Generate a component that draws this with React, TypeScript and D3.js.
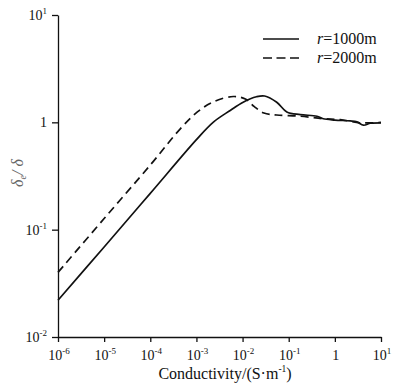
import React, { useEffect, useRef } from "react";
import * as d3 from "d3";

// conductivity (S/m) and normalised depth for both offsets
const sigma1000 = [1e-6, 1e-5, 1e-4, 1e-3, 2.3e-3, 5.4e-3, 1.03e-2, 2.0e-2, 3.0e-2, 5.5e-2, 9.1e-2, 0.178, 0.41, 0.56, 1, 2.14, 3.0, 4.17, 5.9, 10];
const delta1000 = [0.022, 0.069, 0.218, 0.69, 1.0, 1.29, 1.54, 1.73, 1.76, 1.54, 1.25, 1.18, 1.14, 1.08, 1.05, 1.03, 1.01, 0.94, 0.98, 0.99];

const sigma2000 = [1e-6, 1e-5, 1e-4, 4.47e-4, 1.05e-3, 2.3e-3, 6.3e-3, 1.15e-2, 1.8e-2, 2.9e-2, 5.5e-2, 0.178, 0.56, 1.3, 3.5, 10];
const delta2000 = [0.04, 0.127, 0.4, 0.87, 1.25, 1.55, 1.74, 1.65, 1.4, 1.22, 1.17, 1.14, 1.08, 1.06, 0.99, 1.0];

const xTicks = [1e-6, 1e-5, 1e-4, 1e-3, 1e-2, 1e-1, 1, 10];
const xExps = ["-6", "-5", "-4", "-3", "-2", "-1", "", "1"];
const yTicks = [0.01, 0.1, 1, 10];
const yExps = ["-2", "-1", "", "1"];

const legendNames = ["1000m", "2000m"];

const FONT = "'Liberation Serif', 'Times New Roman', serif";

const App = () => {
  const svgRef = useRef<SVGSVGElement>(null);
  useEffect(() => {
    const svg = d3.select(svgRef.current);
    svg.selectAll("*").remove();
    const width = 400;
    const height = 389;
    const margin = { top: 15, right: 19, bottom: 52, left: 58 };

    svg.append("rect").attr("width", width).attr("height", height).attr("fill", "#fff");

    const x = d3.scaleLog().domain([1e-6, 10]).range([margin.left, width - margin.right]);
    const y = d3.scaleLog().domain([0.01, 10]).range([height - margin.bottom, margin.top]);

    const xAxis = svg.append("g")
      .attr("transform", `translate(0,${height - margin.bottom})`)
      .call(d3.axisBottom(x).tickValues(xTicks).tickFormat(() => "").tickSize(5).tickSizeOuter(0));
    const yAxis = svg.append("g")
      .attr("transform", `translate(${margin.left},0)`)
      .call(d3.axisLeft(y).tickValues(yTicks).tickFormat(() => "").tickSize(6).tickSizeOuter(0));
    [xAxis, yAxis].forEach((g) => {
      g.selectAll("path, line").attr("stroke", "#111").attr("stroke-width", 1.3);
    });

    // x tick labels with superscripts
    xTicks.forEach((t, i) => {
      const txt = svg.append("text")
        .attr("x", x(t) + 1)
        .attr("y", 360)
        .attr("text-anchor", "middle")
        .attr("font-family", FONT)
        .attr("font-size", 14)
        .attr("fill", "#111");
      if (xExps[i] === "") {
        txt.text("1");
      } else {
        txt.append("tspan").text("10");
        txt.append("tspan").attr("dy", -6).attr("font-size", 9).text(xExps[i]);
      }
    });

    // y tick labels
    yTicks.forEach((t, i) => {
      const txt = svg.append("text")
        .attr("x", 47)
        .attr("y", y(t) + 5)
        .attr("text-anchor", "end")
        .attr("font-family", FONT)
        .attr("font-size", 14)
        .attr("fill", "#111");
      if (yExps[i] === "") {
        txt.text("1");
      } else {
        txt.append("tspan").text("10");
        txt.append("tspan").attr("dy", -6).attr("font-size", 9).text(yExps[i]);
      }
    });

    // axis titles
    const xt = svg.append("text")
      .attr("x", 225)
      .attr("y", 379)
      .attr("text-anchor", "middle")
      .attr("font-family", FONT)
      .attr("font-size", 16)
      .attr("fill", "#111");
    xt.append("tspan").text("Conductivity/(S·m");
    xt.append("tspan").attr("dy", -7).attr("font-size", 9.5).text("-1");
    xt.append("tspan").attr("dy", 7).text(")");

    const yt = svg.append("text")
      .attr("transform", "rotate(-90)")
      .attr("x", -173)
      .attr("y", 23)
      .attr("text-anchor", "middle")
      .attr("font-family", FONT)
      .attr("font-style", "italic")
      .attr("font-size", 16)
      .attr("fill", "#666");
    yt.append("tspan").text("δ");
    yt.append("tspan").attr("dy", 3).attr("font-size", 10).text("e");
    yt.append("tspan").attr("dy", -3).text("/ δ");

    const line = d3.line<[number, number]>()
      .x((d) => x(d[0]))
      .y((d) => y(d[1]))
      .curve(d3.curveCatmullRom.alpha(0.5));

    svg.append("path")
      .datum(sigma1000.map((s, i) => [s, delta1000[i]] as [number, number]))
      .attr("d", line)
      .attr("fill", "none")
      .attr("stroke", "#111")
      .attr("stroke-width", 1.7);

    svg.append("path")
      .datum(sigma2000.map((s, i) => [s, delta2000[i]] as [number, number]))
      .attr("d", line)
      .attr("fill", "none")
      .attr("stroke", "#111")
      .attr("stroke-width", 1.7)
      .attr("stroke-dasharray", "8,5");

    // legend
    legendNames.forEach((name, i) => {
      const ly = 39 + i * 19;
      svg.append("line")
        .attr("x1", 263).attr("x2", 299)
        .attr("y1", ly).attr("y2", ly)
        .attr("stroke", "#111")
        .attr("stroke-width", 1.7)
        .attr("stroke-dasharray", i === 0 ? null : "9,4.5");
      const t = svg.append("text")
        .attr("x", 317)
        .attr("y", ly + 5)
        .attr("font-family", FONT)
        .attr("font-size", 16)
        .attr("fill", "#111");
      t.append("tspan").attr("font-style", "italic").text("r");
      t.append("tspan").text("=" + name);
    });
  }, []);
  return (
    <svg
      ref={svgRef}
      width={400}
      height={389}
      style={{ position: "absolute", left: 0, top: 0, display: "block" }}
    ></svg>
  );
};

export default App;
